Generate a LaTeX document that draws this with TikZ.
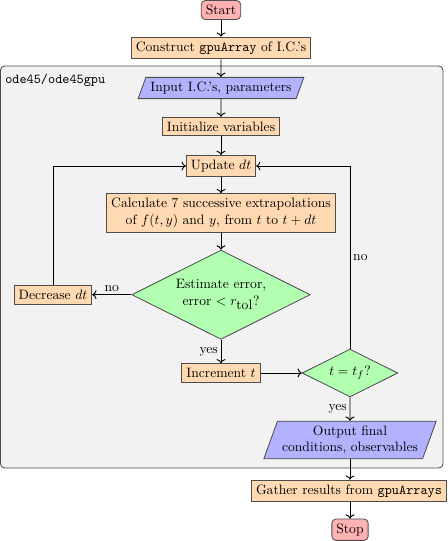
\documentclass[tikz,border=0pt]{standalone}
\usetikzlibrary{shapes.geometric,arrows.meta}
\tikzset{
  base/.style={draw=black!70, line width=0.6pt, font=\normalsize},
  startstop/.style={base, rectangle, rounded corners=3pt, fill=red!30},
  process/.style={base, rectangle, fill=orange!30, align=center},
  io/.style={base, trapezium, trapezium left angle=70, trapezium right angle=110, fill=blue!30, align=center},
  decision/.style={base, diamond, aspect=2, fill=green!30, align=center},
  container/.style={draw=black!70, line width=0.6pt, fill=black!5, rounded corners=3pt},
  arrow/.style={->, >={To}, line width=0.7pt},
  lbl/.style={inner sep=2pt}
}
\begin{document}
\begin{tikzpicture}[x=0.735pt, y=-0.735pt]
\useasboundingbox (0,0) rectangle (448,541);
\draw[container] (0.5,66) rectangle (443,468);
\node[anchor=base west, inner sep=0pt, font=\ttfamily] (lab) at (5,83) {ode45/ode45gpu};

\node[startstop] (start) at (221,10) {Start};
\node[process] (construct) at (221,48) {Construct \texttt{gpuArray} of I.C.'s};
\node[io] (input) at (221,88) {Input I.C.'s, parameters};
\node[process] (init) at (221,126.5) {Initialize variables};
\node[process] (update) at (221,166) {Update $dt$};
\node[process] (calc) at (221,212.8) {Calculate 7 successive extrapolations\\of $f(t,y)$ and $y$, from $t$ to $t+dt$};
\node[decision] (est) at (221,294.7) {Estimate error,\\error $<r_{\textrm{tol}}$?};
\node[process] (dec) at (53,294.7) {Decrease $dt$};
\node[process] (inc) at (221,373) {Increment $t$};
\node[decision] (tf) at (350,373) {$t=t_f$?};
\node[io] (output) at (350,440) {Output final\\conditions, observables};
\node[process] (gather) at (349,491) {Gather results from \texttt{gpuArrays}};
\node[startstop] (stop) at (350,529.7) {Stop};

\draw[arrow] (start) -- (construct);
\draw[arrow] (construct) -- (input);
\draw[arrow] (input) -- (init);
\draw[arrow] (init) -- (update);
\draw[arrow] (update) -- (calc);
\draw[arrow] (calc) -- (est);
\draw[arrow] (est) -- node[lbl, above] {no} (dec);
\draw[arrow] (dec.north) |- (update.west);
\draw[arrow] (est) -- node[lbl, left] {yes} (inc);
\draw[arrow] (inc) -- (tf);
\draw[arrow] (tf.north) |- node[lbl, right, pos=0.25] {no} (update.east);
\draw[arrow] (tf) -- node[lbl, left] {yes} (output);
\draw[arrow] (output.south) -- (output.south |- gather.north);
\draw[arrow] (gather.south -| stop.north) -- (stop);
\end{tikzpicture}
\end{document}
